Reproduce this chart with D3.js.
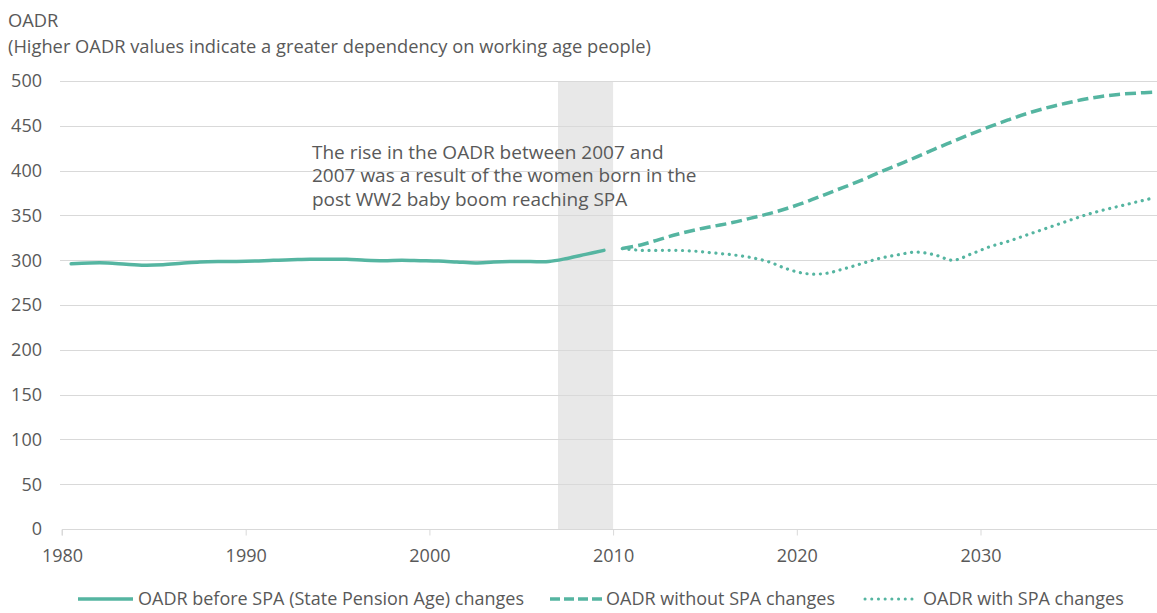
<!DOCTYPE html>
<html>
<head>
<meta charset="utf-8">
<script src="https://cdn.jsdelivr.net/npm/d3@7"></script>
<style>
  body { margin: 0; background: #fff; }
  text { font-family: "Open Sans", "Noto Sans", sans-serif; fill: #595959; }
</style>
</head>
<body>
<svg id="chart" width="1157" height="613"></svg>
<script>
// OADR data, one value per year (plotted mid-year)
var beforeYears = d3.range(1980, 2010);
var beforeValues = [296, 297, 297, 295.5, 294.5, 295, 296.5, 298, 298.5, 298.5,
    299, 300, 300.5, 301, 301, 301, 300, 299.5, 300, 299.5,
    299, 298, 297, 298, 298.5, 298.5, 298.5, 302, 306.5, 311];

var withoutYears = d3.range(2010, 2040);
var withoutValues = [313, 317, 323, 329, 334, 338, 342, 347, 352, 358,
    365, 373, 381, 389, 398, 406.5, 415, 424, 432.5, 441,
    449, 456.5, 463.5, 469.5, 474.5, 479, 482.5, 485, 486.5, 487.5];

var withYears = d3.range(2010, 2040);
var withValues = [313, 311, 311, 311, 310, 308, 306, 303, 298, 290,
    285, 285, 290, 296, 302, 306, 309, 306, 300, 307,
    315, 321, 328, 335, 342, 349, 355, 360, 365, 370];

var yTicks = [0, 50, 100, 150, 200, 250, 300, 350, 400, 450, 500];
var xTicks = [1980, 1990, 2000, 2010, 2020, 2030];
var band = [2007, 2010];

var titleLines = ["OADR", "(Higher OADR values indicate a greater dependency on working age people)"];
var noteLines = ["The rise in the OADR between 2007 and",
    "2007 was a result of the women born in the",
    "post WW2 baby boom reaching SPA"];
var legendLabels = ["OADR before SPA (State Pension Age) changes",
    "OADR without SPA changes", "OADR with SPA changes"];

var teal = "#55b5a1";
var svg = d3.select("#chart");

var x = d3.scaleLinear().domain([1980, 2040]).range([62, 62 + 60 * 18.37]);
var y = d3.scaleLinear().domain([0, 500]).range([529, 81]);

// shaded period
svg.append("rect")
    .attr("x", x(band[0]))
    .attr("y", y(500))
    .attr("width", x(band[1]) - x(band[0]))
    .attr("height", y(0) - y(500))
    .style("fill", "#e8e8e8");

// gridlines
svg.append("g")
    .selectAll("line")
    .data(yTicks.filter(function (d) { return d > 0; }))
    .enter()
    .append("line")
    .attr("x1", 60)
    .attr("x2", 1157)
    .attr("y1", function (d) { return Math.round(y(d)) + 0.5; })
    .attr("y2", function (d) { return Math.round(y(d)) + 0.5; })
    .style("stroke", "#d9d9d9");

// y labels
svg.append("g")
    .selectAll("text")
    .data(yTicks)
    .enter()
    .append("text")
    .attr("x", 42)
    .attr("y", function (d) { return y(d); })
    .attr("dy", "0.35em")
    .attr("text-anchor", "end")
    .style("font-size", "18px")
    .text(function (d) { return d; });

// x axis
var xAxis = svg.append("g")
    .attr("transform", "translate(0," + (Math.round(y(0)) + 0.5) + ")")
    .call(d3.axisBottom(x).tickValues(xTicks).tickFormat(d3.format("d")).tickSize(6).tickPadding(14));
xAxis.select(".domain").attr("stroke", "#d9d9d9").attr("d", "M" + x(1980) + ",6V0H1157");
xAxis.selectAll(".tick line").attr("stroke", "#d9d9d9");
xAxis.selectAll(".tick text")
    .style("font-size", "18px")
    .style("font-family", "'Open Sans', sans-serif")
    .attr("fill", "#595959");

// lines
var line = d3.line()
    .x(function (d) { return x(d[0] + 0.5); })
    .y(function (d) { return y(d[1]); })
    .curve(d3.curveCatmullRom.alpha(0.5));

svg.append("path")
    .datum(d3.zip(withYears, withValues))
    .attr("d", line)
    .style("fill", "none")
    .style("stroke", teal)
    .style("stroke-width", 3.2)
    .style("stroke-linecap", "round")
    .style("stroke-dasharray", "0.1,6.6");

svg.append("path")
    .datum(d3.zip(withoutYears, withoutValues))
    .attr("d", line)
    .style("fill", "none")
    .style("stroke", teal)
    .style("stroke-width", 3.5)
    .style("stroke-dasharray", "11,5");

svg.append("path")
    .datum(d3.zip(beforeYears, beforeValues))
    .attr("d", line)
    .style("fill", "none")
    .style("stroke", teal)
    .style("stroke-width", 3.5)
    .style("stroke-linecap", "round");

// titles
svg.selectAll(".title")
    .data(titleLines)
    .enter()
    .append("text")
    .attr("class", "title")
    .attr("x", 8)
    .attr("y", function (d, i) { return 21 + i * 26; })
    .attr("dy", "0.35em")
    .style("font-size", "18.3px")
    .text(function (d) { return d; });

// annotation
svg.selectAll(".note")
    .data(noteLines)
    .enter()
    .append("text")
    .attr("class", "note")
    .attr("x", 312)
    .attr("y", function (d, i) { return 152 + i * 23.5; })
    .attr("dy", "0.35em")
    .style("font-size", "19px")
    .text(function (d) { return d; });

// legend
var legendX = [[78, 133, 138], [550, 603, 606], [865, 912, 923]];
var legendDash = [null, "10,4", "0.1,6.6"];
var legendWidth = [3.5, 3.5, 3];
var legend = svg.append("g");
legendLabels.forEach(function (lab, i) {
    legend.append("line")
        .attr("x1", legendX[i][0])
        .attr("x2", legendX[i][1])
        .attr("y1", 599)
        .attr("y2", 599)
        .style("stroke", teal)
        .style("stroke-width", legendWidth[i])
        .style("stroke-linecap", i == 2 ? "round" : "butt")
        .style("stroke-dasharray", legendDash[i]);
    legend.append("text")
        .attr("x", legendX[i][2])
        .attr("y", 599)
        .attr("dy", "0.35em")
        .style("font-size", "18px")
        .text(lab);
});
</script>
</body>
</html>
